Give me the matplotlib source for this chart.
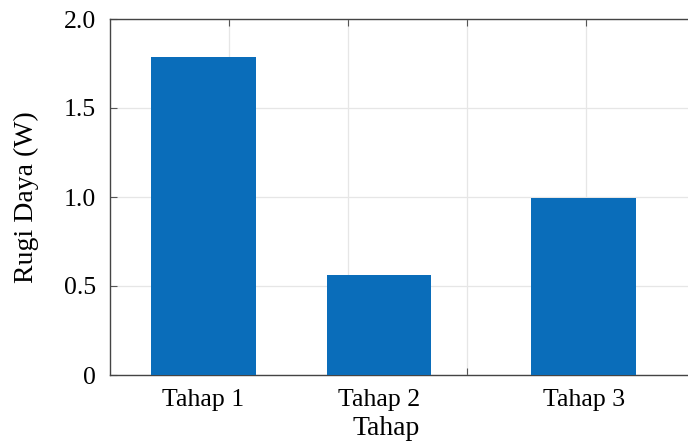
import matplotlib
matplotlib.use("Agg")
import matplotlib.pyplot as plt
from matplotlib.ticker import FixedLocator, NullFormatter

# Data
categories = ['Tahap 1', 'Tahap 2', 'Tahap 3']
rugi_daya = [1.785, 0.563, 0.996]
# bar centres on the numeric x axis (grid lines sit at integer values)
positions = [0.786, 2.26, 3.98]
bar_width = 0.88
yticks = [0, 0.5, 1.0, 1.5, 2.0]
ytick_labels = ['0', '0.5', '1.0', '1.5', '2.0']

plt.rcParams['font.family'] = ['Liberation Serif', 'DejaVu Serif']

W, H = 688, 445
fig = plt.figure(figsize=(W / 100, H / 100), dpi=100)
left, right, top, bottom = 110, 700, 19, 375
ax = fig.add_axes([left / W, (H - bottom) / H, (right - left) / W, (bottom - top) / H])

ax.bar(positions, rugi_daya, width=bar_width, color='#0a6dba', zorder=3)

ax.set_xlim(0, (right - left) / 119)
ax.set_ylim(0, 2.0)

# grid + inward tick marks on integer positions, labels at bar centres
ax.xaxis.set_major_locator(FixedLocator([1, 2, 3, 4]))
ax.xaxis.set_major_formatter(NullFormatter())
ax.xaxis.set_minor_locator(FixedLocator(positions))
ax.set_xticklabels(categories, minor=True)
ax.tick_params(axis='x', which='major', direction='in', length=5, top=True,
               color='#555555', width=0.8)
ax.tick_params(axis='x', which='minor', length=0, pad=10, labelsize=18.5)

ax.set_yticks(yticks)
ax.set_yticklabels(ytick_labels)
ax.tick_params(axis='y', direction='in', length=5, color='#555555', width=0.8,
               pad=10, labelsize=18.5)

ax.grid(True, which='major', color='#e6e6e6', linewidth=0.9, zorder=0)
ax.set_axisbelow(True)

for side in ['left', 'bottom', 'top']:
    ax.spines[side].set_color('#444444')
    ax.spines[side].set_linewidth(1.0)
ax.spines['right'].set_visible(False)

ax.set_xlabel('Tahap', fontsize=20)
ax.xaxis.set_label_coords((386 - left) / (right - left), -0.115)
ax.set_ylabel('Rugi Daya (W)', fontsize=20)
ax.yaxis.set_label_coords(-0.12, 0.5)

plt.savefig('out.png', dpi=100)
plt.close()
